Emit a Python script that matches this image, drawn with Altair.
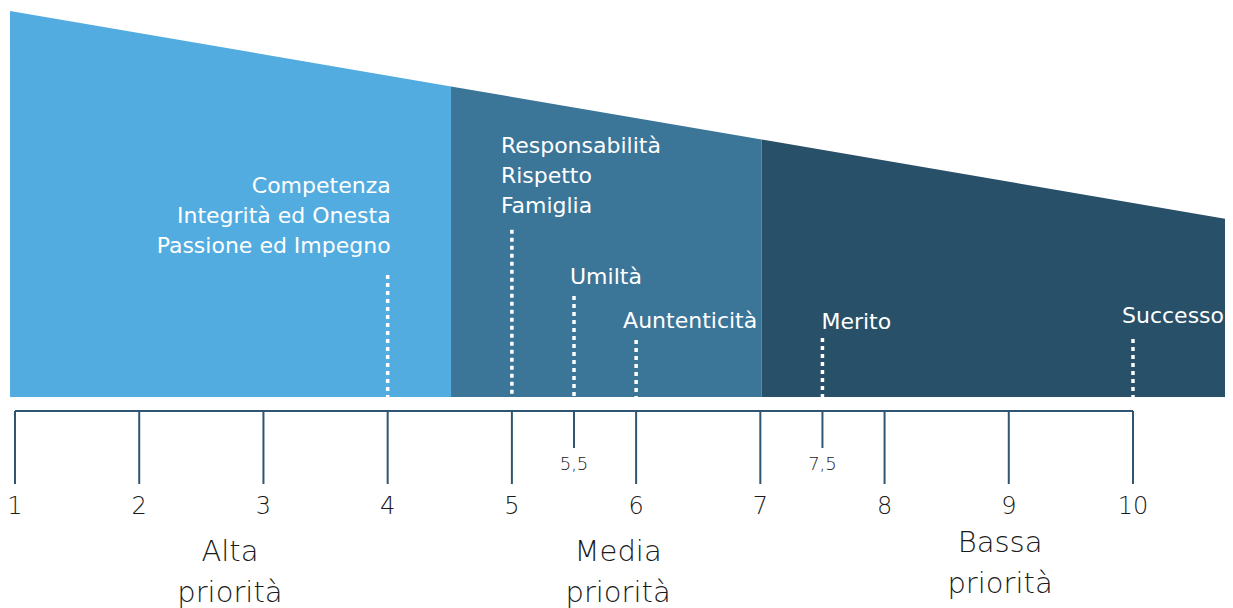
import altair as alt
import pandas as pd

# ---- data -------------------------------------------------------------
region_names = ["Alta", "Media", "Bassa"]
region_starts = [0.96, 4.51, 7.01]
region_ends = [4.51, 7.01, 10.805]
region_top_start = [100.0, 80.47, 66.72]
region_top_end = [80.47, 66.72, 45.85]
region_colors = ["#53ACE0", "#3B7699", "#295069"]

item_x = [4, 5, 5.5, 6, 7.5, 10]
item_top = [31.6, 43.3, 26.2, 14.8, 15.3, 15.0]
item_labels = [
    ["Competenza", "Integrità ed Onesta", "Passione ed Impegno"],
    ["Responsabilità", "Rispetto", "Famiglia"],
    ["Umiltà"],
    ["Auntenticità"],
    ["Merito"],
    ["Successo"],
]
item_align = ["right", "left", "left", "left", "left", "left"]

major_ticks = list(range(1, 11))
major_tick_labels = [str(v) for v in major_ticks]
minor_ticks = [5.5, 7.5]
minor_tick_labels = ["5,5", "7,5"]

priority_text = ["Alta\npriorità", "Media\npriorità", "Bassa\npriorità"]
priority_x = [2.73, 5.855, 8.93]

# ---- style / layout constants ----------------------------------------
W, H = 1217, 600
PX_X = 124.222
X_DOMAIN = [0.94365, 0.94365 + W / PX_X]
Y_DOMAIN = [-54.66, 100.78]
PX_Y = H / (Y_DOMAIN[1] - Y_DOMAIN[0])
label_dx = [3, -11, -4, -13, -1, -11]
label_gap = [29, 24, 19, 19, 16, 23]
LINE_H = 30
priority_y = [544, 544, 535]
LABEL_FONT = "DejaVu Sans"
AXIS_FONT = "DejaVu Sans"
AXIS_COLOR = "#2E5673"

xs = alt.Scale(domain=X_DOMAIN, nice=False, zero=False)
ys = alt.Scale(domain=Y_DOMAIN, nice=False, zero=False)

# ---- shape ------------------------------------------------------------
shape_layers = []
for n, a, b, t0, t1, c in zip(region_names, region_starts, region_ends,
                              region_top_start, region_top_end, region_colors):
    d = pd.DataFrame({"x": [a, b], "top": [t0, t1], "base": [0.0, 0.0]})
    shape_layers.append(
        alt.Chart(d).mark_area(color=c, interpolate="linear", clip=True).encode(
            x=alt.X("x:Q", scale=xs, axis=None),
            y=alt.Y("top:Q", scale=ys, axis=None),
            y2="base:Q",
        )
    )

# ---- dotted lines -----------------------------------------------------
items_df = pd.DataFrame({"x": item_x, "top": item_top, "base": [0.0] * len(item_x)})
dots = alt.Chart(items_df).mark_rule(color="white", strokeWidth=3.5, strokeDash=[4, 4]).encode(
    x=alt.X("x:Q", scale=xs),
    y=alt.Y("top:Q", scale=ys),
    y2="base:Q",
)

# ---- item labels ------------------------------------------------------
lab_rows = []
for x, top, lines, al, dx, gap in zip(item_x, item_top, item_labels, item_align, label_dx, label_gap):
    n = len(lines)
    for i, t in enumerate(lines):
        k = n - 1 - i
        lab_rows.append({
            "text": t,
            "x": x + dx / PX_X,
            "y": top + (gap + LINE_H * k) / PX_Y,
            "align": al,
        })
lab_df = pd.DataFrame(lab_rows)

labels_right = alt.Chart(lab_df[lab_df["align"] == "right"]).mark_text(
    align="right", baseline="middle", color="white", font=LABEL_FONT, fontSize=22
).encode(x=alt.X("x:Q", scale=xs), y=alt.Y("y:Q", scale=ys), text="text:N")

labels_left = alt.Chart(lab_df[lab_df["align"] == "left"]).mark_text(
    align="left", baseline="middle", color="white", font=LABEL_FONT, fontSize=22
).encode(x=alt.X("x:Q", scale=xs), y=alt.Y("y:Q", scale=ys), text="text:N")

# ---- custom axis ------------------------------------------------------
axis_df = pd.DataFrame({"x": [major_ticks[0]], "x2": [major_ticks[-1]]})
axis_line = alt.Chart(axis_df).mark_rule(color=AXIS_COLOR, strokeWidth=2).encode(
    x=alt.X("x:Q", scale=xs), x2="x2:Q", y=alt.value(403)
)

major_df = pd.DataFrame({"x": major_ticks, "label": major_tick_labels})
major_tick_marks = alt.Chart(major_df).mark_rule(color=AXIS_COLOR, strokeWidth=2).encode(
    x=alt.X("x:Q", scale=xs), y=alt.value(403), y2=alt.value(476)
)
major_tick_text = alt.Chart(major_df).mark_text(
    align="center", baseline="middle", color="#1a1a1a", font=AXIS_FONT, fontSize=24, fontWeight=200
).encode(x=alt.X("x:Q", scale=xs), y=alt.value(499), text="label:N")

minor_df = pd.DataFrame({"x": minor_ticks, "label": minor_tick_labels})
minor_tick_marks = alt.Chart(minor_df).mark_rule(color=AXIS_COLOR, strokeWidth=2).encode(
    x=alt.X("x:Q", scale=xs), y=alt.value(403), y2=alt.value(440)
)
minor_tick_text = alt.Chart(minor_df).mark_text(
    align="center", baseline="middle", color="#1a1a1a", font=AXIS_FONT, fontSize=18, fontWeight=200
).encode(x=alt.X("x:Q", scale=xs), y=alt.value(457), text="label:N")

prio_layers = []
for t, x, yp in zip(priority_text, priority_x, priority_y):
    d = pd.DataFrame({"x": [x], "text": [t]})
    prio_layers.append(
        alt.Chart(d).mark_text(
            align="center", baseline="middle", color="#1a1a1a", font=AXIS_FONT, fontSize=29,
            fontWeight=200, lineBreak="\n", lineHeight=41
        ).encode(x=alt.X("x:Q", scale=xs), y=alt.value(yp), text="text:N")
    )

chart = alt.layer(
    *shape_layers, dots, labels_right, labels_left,
    axis_line, major_tick_marks, major_tick_text, minor_tick_marks, minor_tick_text,
    *prio_layers,
).properties(
    width=W, height=H, autosize=alt.AutoSizeParams(type="none"), padding=0,
    background="white",
).configure_view(stroke=None)

chart.save("out.html", embed_options={"renderer": "svg", "actions": False})
